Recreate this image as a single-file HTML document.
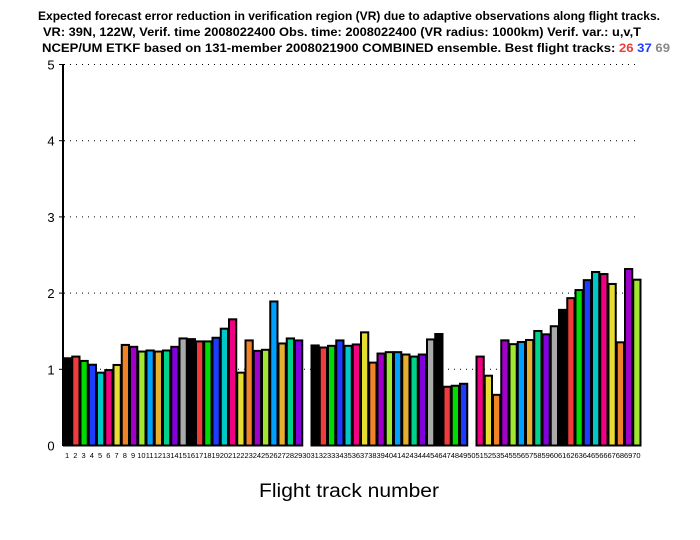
<!DOCTYPE html>
<html><head><meta charset="utf-8"><style>
html,body{margin:0;padding:0;background:#fff;}
svg{display:block;font-family:"Liberation Sans",sans-serif;}
</style></head><body>
<svg id="s" width="700" height="540" xmlns="http://www.w3.org/2000/svg">
<g font-weight="bold" font-size="12" fill="#000">
<text x="38" y="20" textLength="622" lengthAdjust="spacingAndGlyphs">Expected forecast error reduction in verification region (VR) due to adaptive observations along flight tracks.</text>
<text x="43" y="36" textLength="598" lengthAdjust="spacingAndGlyphs">VR: 39N, 122W, Verif. time 2008022400 Obs. time: 2008022400 (VR radius: 1000km)  Verif. var.: u,v,T</text>
<text x="42" y="52" textLength="628" lengthAdjust="spacingAndGlyphs">NCEP/UM ETKF based on 131-member 2008021900 COMBINED ensemble.  Best flight tracks: <tspan fill="#f03c3c">26</tspan> <tspan fill="#1e3cff">37</tspan> <tspan fill="#888">69</tspan></text>
</g>
<g id="grid" stroke="#000" stroke-width="1" stroke-dasharray="1,5"></g>
<g id="bars" stroke="#000" stroke-width="2"></g>
<line x1="63" y1="64" x2="63" y2="446" stroke="#000" stroke-width="2"/>
<g id="yl" font-size="13" fill="#000" text-anchor="middle"></g>
<g id="xl" font-size="7.5" fill="#000" text-anchor="middle"></g>
<text x="349" y="497" font-size="19" text-anchor="middle" textLength="180" lengthAdjust="spacingAndGlyphs">Flight track number</text>
</svg>
<script>
var v=[1.145,1.167,1.11,1.06,0.956,0.99,1.057,1.32,1.295,1.233,1.247,1.233,1.247,1.295,1.405,1.396,1.366,1.366,1.414,1.533,1.656,0.956,1.379,1.242,1.256,1.89,1.339,1.405,1.379,0,
1.313,1.286,1.308,1.379,1.308,1.326,1.485,1.088,1.207,1.225,1.225,1.194,1.167,1.194,1.392,1.463,0.771,0.784,0.81,0,
1.167,0.916,0.665,1.38,1.33,1.358,1.385,1.503,1.459,1.565,1.78,1.934,2.04,2.17,2.277,2.25,2.12,1.354,2.316,2.176];
var c=["#000","#f03c3c","#00dc00","#1e3cff","#00c8c8","#f00082","#e6dc32","#f08228","#a000c8","#a0e632","#00a0ff","#e6af2d","#00d28c","#8200dc","#aaaaaa"];
var ns="http://www.w3.org/2000/svg";
function el(p,t,a,txt){var e=document.createElementNS(ns,t);for(var k in a)e.setAttribute(k,a[k]);if(txt!=null)e.textContent=txt;document.getElementById(p).appendChild(e);}
var y0=445.5,u=76.2;
for(var k=1;k<=5;k++){var y=y0-k*u;el("grid","line",{x1:64,y1:y,x2:640,y2:y});el("yl","text",{x:51,y:y+5},k);el("grid","line",{x1:59,y1:y,x2:63,y2:y,"stroke-dasharray":"none"});}
el("yl","text",{x:51,y:y0+5},0);
var w=8.25;
for(var i=0;i<70;i++){var x=63+i*w;var h=v[i]*u;
if(h>0)el("bars","rect",{x:x+1,y:y0-h,width:w-1,height:h,fill:c[i%15]});
el("xl","text",{x:x+w/2,y:458},i+1);}
</script>
</body></html>
